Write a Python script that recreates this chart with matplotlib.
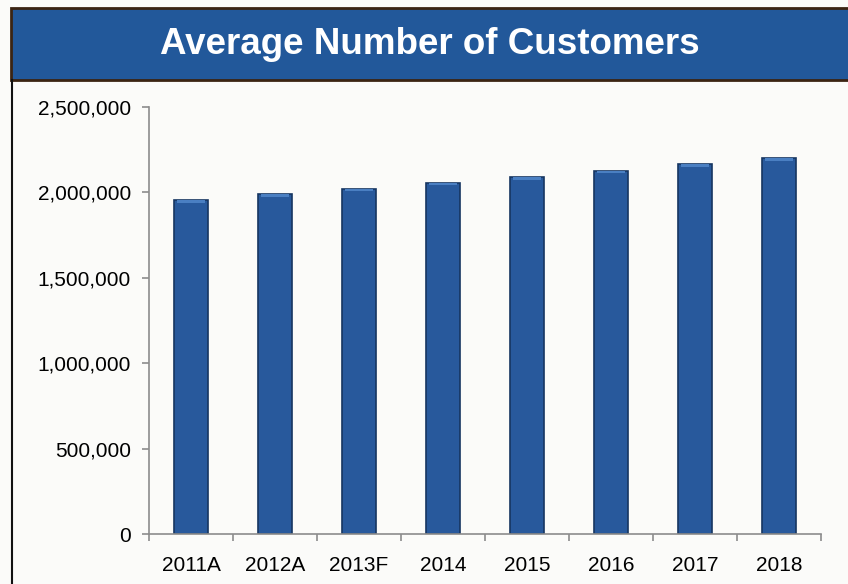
import matplotlib
matplotlib.use("Agg")
import matplotlib.pyplot as plt
from matplotlib.patches import Rectangle
from matplotlib.ticker import FuncFormatter, FixedLocator

# data
categories = ["2011A", "2012A", "2013F", "2014", "2015", "2016", "2017", "2018"]
customers = [1955000, 1990000, 2022000, 2057000, 2092000, 2128000, 2165000, 2200000]
title = "Average Number of Customers"

plt.rcParams["font.family"] = ["Liberation Sans", "DejaVu Sans"]

W, H = 848, 584
fig = plt.figure(figsize=(W / 100, H / 100), dpi=100)
fig.patch.set_facecolor("#fbfbf9")

# header band
fig.patches.append(Rectangle((11 / W, 1 - 80 / H), 1.0, 72 / H, transform=fig.transFigure,
                             facecolor="#22589a", edgecolor="#3b2412", lw=2.0))
# body frame, left edge
fig.add_artist(plt.Line2D([12 / W, 12 / W], [0, 1 - 80 / H], transform=fig.transFigure,
                          color="#111111", lw=1.5))
fig.text((11 + 848) / 2 / W, 1 - 45 / H, title, ha="center", va="center",
         color="white", fontsize=26.5, fontweight="bold")

ax = fig.add_axes([149 / W, 50 / H, (821 - 149) / W, (534 - 107) / H])
ax.set_facecolor("none")

x = range(len(categories))
ax.bar(x, customers, width=0.4, color="#28599c", edgecolor="#163561", lw=1.2, zorder=2)
# small lighter bevel on bar tops
ax.bar(x, [v * 0.008 for v in customers], bottom=[v * 0.992 for v in customers],
       width=0.34, color="#4a7fc2", lw=0, zorder=3)

ax.set_xlim(-0.5, len(categories) - 0.5)
ax.set_ylim(0, 2500000)
ax.set_yticks(range(0, 2500001, 500000))
ax.yaxis.set_major_formatter(FuncFormatter(lambda v, p: f"{int(v):,}"))
ax.set_xticks(list(x))
ax.set_xticklabels(categories)
ax.xaxis.set_minor_locator(FixedLocator([i - 0.5 for i in range(len(categories) + 1)]))

for s in ("top", "right"):
    ax.spines[s].set_visible(False)
for s in ("left", "bottom"):
    ax.spines[s].set_color("#8c8c8c")
    ax.spines[s].set_linewidth(1.2)

ax.tick_params(axis="y", length=5, width=1.2, color="#8c8c8c", pad=8, labelsize=15)
ax.tick_params(axis="x", which="major", length=0, pad=16, labelsize=15)
ax.tick_params(axis="x", which="minor", length=5, width=1.2, color="#8c8c8c")

fig.savefig("out.png", dpi=100, facecolor=fig.get_facecolor())
